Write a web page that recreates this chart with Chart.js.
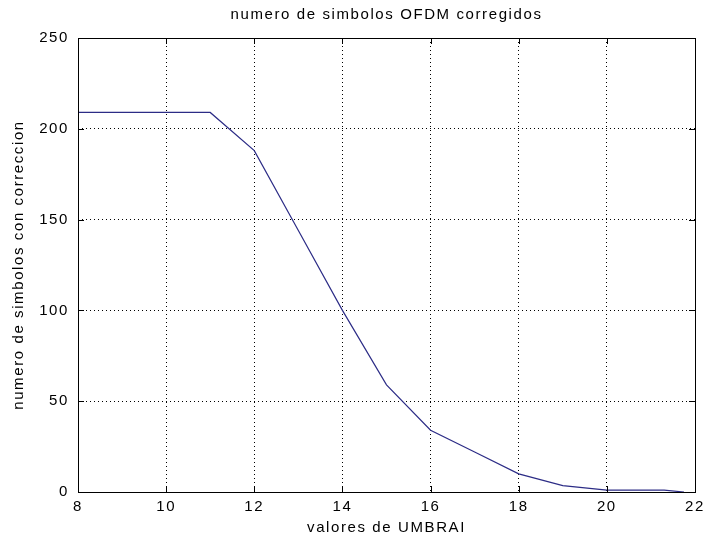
<!DOCTYPE html>
<html>
<head>
<meta charset="utf-8">
<script src="https://cdn.jsdelivr.net/npm/chart.js@4.4.1/dist/chart.umd.min.js"></script>
<style>
  html, body { margin: 0; padding: 0; background: #fff; }
  #wrap { width: 705px; height: 542px; }
</style>
</head>
<body>
<div id="wrap"><canvas id="grafico"></canvas></div>
<script>
const umbral = [8, 9, 10, 11, 12, 13, 14, 15, 16, 17, 18, 19, 20, 21, 21.3, 21.75];
const simbolos = [209, 209, 209, 209, 188, 144, 100, 59, 34, 22, 10, 3.5, 1, 1, 1, 0];
const xTicks = [8, 10, 12, 14, 16, 18, 20, 22];
const yTicks = [0, 50, 100, 150, 200, 250];
const titulo = 'numero de simbolos OFDM corregidos';

const fuente = "'Liberation Sans', Arial, sans-serif";

// el texto de matlab sale mas espaciado
const espaciado = {
    id: 'espaciado',
    beforeLayout(chart) { chart.ctx.letterSpacing = '1.6px'; },
    beforeDraw(chart) { chart.ctx.letterSpacing = '1.6px'; }
};

// titulo centrado sobre el area de los ejes, como en matlab
const tituloEjes = {
    id: 'tituloEjes',
    afterDraw(chart) {
        const ctx = chart.ctx;
        const a = chart.chartArea;
        ctx.save();
        ctx.letterSpacing = '1.6px';
        ctx.font = '15px ' + fuente;
        ctx.fillStyle = '#000';
        ctx.textAlign = 'center';
        ctx.textBaseline = 'middle';
        ctx.fillText(titulo, (a.left + a.right) / 2, 15);
        ctx.restore();
    }
};

// marcas de tick hacia adentro y caja completa
const cajaMatlab = {
    id: 'cajaMatlab',
    afterDraw(chart) {
        const ctx = chart.ctx;
        const a = chart.chartArea;
        const sx = chart.scales.x, sy = chart.scales.y;
        ctx.save();
        ctx.strokeStyle = '#000';
        ctx.lineWidth = 1;
        ctx.beginPath();
        xTicks.forEach(v => {
            const px = Math.round(sx.getPixelForValue(v)) + 0.5;
            ctx.moveTo(px, a.bottom); ctx.lineTo(px, a.bottom - 6);
            ctx.moveTo(px, a.top); ctx.lineTo(px, a.top + 6);
        });
        yTicks.forEach(v => {
            const py = Math.round(sy.getPixelForValue(v)) + 0.5;
            ctx.moveTo(a.left, py); ctx.lineTo(a.left + 6, py);
            ctx.moveTo(a.right, py); ctx.lineTo(a.right - 6, py);
        });
        ctx.stroke();
        ctx.strokeRect(Math.round(a.left) + 0.5, Math.round(a.top) + 0.5,
            Math.round(a.right - a.left), Math.round(a.bottom - a.top));
        ctx.restore();
    }
};

new Chart(document.getElementById('grafico'), {
    type: 'line',
    data: {
        datasets: [{
            data: umbral.map((x, i) => ({ x: x, y: simbolos[i] })),
            borderColor: '#2c2c86',
            borderWidth: 1.2,
            pointRadius: 0,
            fill: false,
            tension: 0
        }]
    },
    options: {
        responsive: true,
        maintainAspectRatio: false,
        animation: false,
        layout: { padding: { left: 0, right: 10, top: 38, bottom: 0 } },
        plugins: {
            legend: { display: false },
            tooltip: { enabled: false },
            title: { display: false }
        },
        scales: {
            x: {
                type: 'linear',
                min: 8,
                max: 22,
                afterBuildTicks: s => { s.ticks = xTicks.map(v => ({ value: v })); },
                afterFit: s => { s.height = 50; s.paddingLeft = 0; s.paddingRight = 0; },
                grid: { color: '#000', drawTicks: false, lineWidth: 1 },
                border: { display: false, dash: [1, 3] },
                ticks: { color: '#000', font: { family: fuente, size: 15 }, padding: 6, maxRotation: 0 },
                title: {
                    display: true,
                    text: 'valores de UMBRAI',
                    color: '#000',
                    font: { family: fuente, size: 15 },
                    padding: { top: 2, bottom: 5 }
                }
            },
            y: {
                min: 0,
                max: 250,
                afterBuildTicks: s => { s.ticks = yTicks.map(v => ({ value: v })); },
                afterFit: s => { s.width = 78; s.paddingTop = 0; s.paddingBottom = 0; },
                grid: { color: '#000', drawTicks: false, lineWidth: 1 },
                border: { display: false, dash: [1, 3] },
                ticks: { color: '#000', font: { family: fuente, size: 15 }, padding: 9 },
                title: {
                    display: true,
                    text: 'numero de simbolos con correccion',
                    color: '#000',
                    font: { family: fuente, size: 15 },
                    padding: { top: 10, bottom: 4 }
                }
            }
        }
    },
    plugins: [espaciado, tituloEjes, cajaMatlab]
});
</script>
</body>
</html>
